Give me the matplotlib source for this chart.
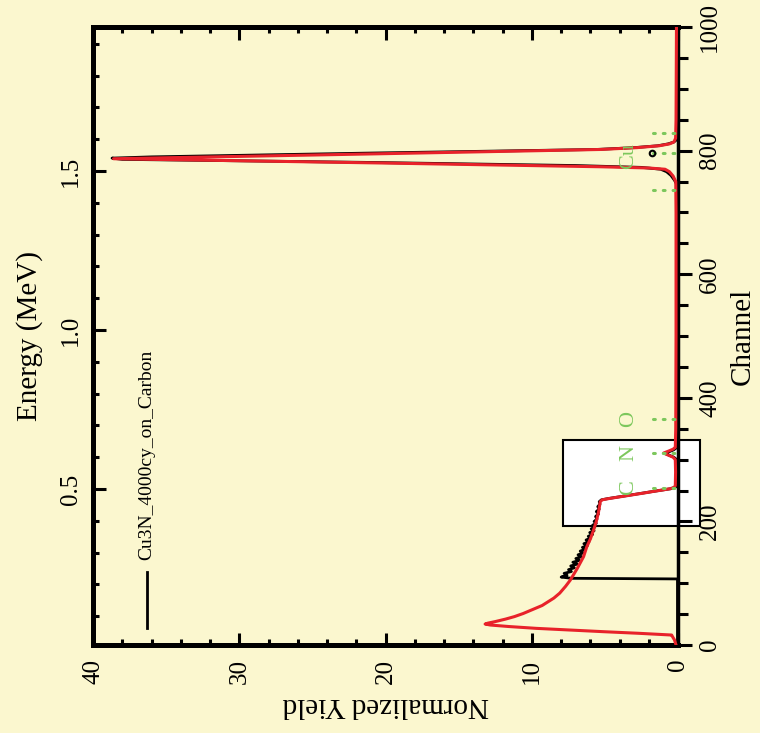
import matplotlib
matplotlib.use("Agg")
import matplotlib.pyplot as plt
from matplotlib.ticker import MultipleLocator, FixedLocator
from matplotlib.patches import Rectangle

plt.rcParams['font.family'] = ['Liberation Serif', 'DejaVu Serif']

# simulated spectrum (channel, normalized yield)
sim_ch = [0, 8, 14, 16.2, 19, 21.6, 24.3, 27, 30, 32.4, 34, 35.5, 38, 42, 46, 51, 57, 64,
          70, 76, 84, 95, 105, 124, 143, 159, 172, 186, 200, 215, 226, 232, 235, 237,
          240, 243, 246, 249, 251, 253, 255, 258, 280, 300, 304, 307, 310.7, 314, 317,
          320, 350, 500, 700, 750, 759, 766, 770, 772, 774, 780, 787, 795, 802, 805,
          808, 811, 814, 820, 850, 1000]
sim_y = [0.15, 0.25, 0.4, 0.45, 2.7, 5.1, 7.4, 9.7, 11.6, 12.85, 13.2, 13.0, 12.5, 11.8,
         11.2, 10.6, 10.0, 9.3, 8.9, 8.5, 8.1, 7.7, 7.38, 6.9, 6.47, 6.25, 6.0, 5.79,
         5.6, 5.45, 5.37, 5.33, 5.2, 4.75, 3.95, 3.15, 2.35, 1.6, 1.05, 0.55, 0.28, 0.2,
         0.18, 0.2, 0.35, 0.65, 1.0, 0.65, 0.35, 0.2, 0.17, 0.15, 0.15, 0.17, 0.35, 0.6,
         0.9, 2.0, 5.3, 20.0, 38.6, 20.5, 5.3, 2.8, 1.3, 0.6, 0.3, 0.18, 0.15, 0.12]

# measured spectrum Cu3N_4000cy_on_Carbon
exp_ch = [0, 107, 108, 110, 113, 116, 119, 122, 125, 128, 131, 134, 137, 140, 143, 146,
          149, 152, 155, 158, 161, 164, 167, 170, 173, 176, 179, 182, 185, 188, 191, 194,
          197, 200, 204, 208, 212, 216, 220, 224, 228, 232, 235, 237, 240, 243, 246, 249,
          251, 253, 256, 260, 290, 300, 304, 307, 310, 313, 316, 320, 360, 500, 700, 745,
          752, 760, 766, 770, 773, 776, 781, 786, 788, 790, 796, 802, 805, 808, 811, 814,
          818, 830, 1000]
exp_y = [0.05, 0.05, 7.3, 8.0, 7.6, 7.8, 7.3, 7.5, 7.1, 7.35, 6.9, 7.2, 6.75, 7.0, 6.6,
         6.85, 6.5, 6.7, 6.35, 6.55, 6.2, 6.45, 6.1, 6.3, 6.0, 6.15, 5.85, 6.05, 5.75,
         5.95, 5.7, 5.85, 5.6, 5.75, 5.55, 5.65, 5.45, 5.6, 5.4, 5.5, 5.35, 5.4, 5.25,
         4.8, 4.0, 3.2, 2.4, 1.6, 1.05, 0.5, 0.15, 0.05, 0.05, 0.1, 0.3, 0.6, 0.9, 0.6,
         0.3, 0.08, 0.05, 0.05, 0.05, 0.1, 0.25, 0.5, 0.8, 1.2, 2.5, 7.0, 21.0, 38.0,
         38.7, 36.0, 21.5, 5.6, 3.0, 1.4, 0.7, 0.3, 0.1, 0.05, 0.05]

# surface edge positions of the elements (channel)
elements = ['C', 'N', 'O', 'Cu']
element_ch = [254.5, 311, 366, 791]
edge_marks = [254.5, 311, 366, 736, 796, 828]

# channel -> energy calibration (MeV)
e_offset = 0.0096
e_gain = 0.001943

bg = '#fbf7cf'
green = '#7cc75c'
red = '#e8222a'

fig = plt.figure(figsize=(7.6, 7.33), dpi=100, facecolor=bg)
ax = fig.add_axes([0.1224, 0.12, 0.770, 0.843], facecolor=bg)

ax.plot(exp_y, exp_ch, color='black', lw=2.0, zorder=3)
ax.plot(sim_y, sim_ch, color=red, lw=2.2, zorder=4)

for ch in edge_marks:
    ax.plot([1.7, 0.05], [ch, ch], color=green, lw=2.2, ls=(0, (0.6, 2.6)),
            dash_capstyle='round', zorder=5)
for name, ch in zip(elements, element_ch):
    ax.text(3.4, ch, name, color=green, fontsize=16, rotation=90,
            ha='center', va='center', zorder=5)
ax.plot([1.78], [796], 'o', ms=4, mfc='none', mec='black', mew=1.5, zorder=6)

# legend sample, drawn sideways
ax.plot([0.092, 0.092], [0.028, 0.118], color='black', lw=2, transform=ax.transAxes)
ax.text(0.092, 0.137, 'Cu3N_4000cy_on_Carbon', rotation=90, fontsize=14,
        ha='center', va='bottom', transform=ax.transAxes)

# white zoom frame
ax.add_patch(Rectangle((0.803, 0.1926), 0.235, 0.14, transform=ax.transAxes,
                       facecolor='white', edgecolor='black', lw=1.5,
                       clip_on=False, zorder=0.5))

ax.set_xlim(40, 0)
ax.set_ylim(0, 1000)

ax.xaxis.set_major_locator(MultipleLocator(10))
ax.xaxis.set_minor_locator(MultipleLocator(2))
ax.tick_params(axis='x', which='both', direction='in', top=True, bottom=True,
               width=2.2, labelsize=18, labelrotation=90, pad=10)
ax.tick_params(axis='x', which='major', length=9)
ax.tick_params(axis='x', which='minor', length=4.5)

ax.yaxis.tick_right()
ax.yaxis.set_label_position('right')
ax.yaxis.set_major_locator(MultipleLocator(200))
ax.yaxis.set_minor_locator(MultipleLocator(50))
ax.tick_params(axis='y', which='both', direction='out', left=False, right=True,
               width=2.2, labelsize=18, labelrotation=90, pad=5)
ax.tick_params(axis='y', which='major', length=10)
ax.tick_params(axis='y', which='minor', length=7)
for lab in ax.get_yticklabels():
    lab.set_va('center')

ax.set_xlabel('Normalized Yield', fontsize=21, rotation=180, labelpad=6)
ax.set_ylabel('Channel', fontsize=21, rotation=90, labelpad=6)

for side in ['left', 'bottom', 'top']:
    ax.spines[side].set_linewidth(3.6)
ax.spines['right'].set_linewidth(2.5)

sec = ax.secondary_yaxis('left', functions=(lambda c: e_offset + e_gain * c,
                                            lambda e: (e - e_offset) / e_gain))
sec.yaxis.set_major_locator(FixedLocator([0.5, 1.0, 1.5]))
sec.yaxis.set_minor_locator(MultipleLocator(0.1))
sec.tick_params(which='both', direction='in', width=2.2, labelsize=18,
                labelrotation=90, pad=8)
sec.tick_params(which='major', length=9)
sec.tick_params(which='minor', length=4.5)
sec.spines['left'].set_linewidth(3.6)
for lab in sec.get_yticklabels():
    lab.set_va('center')
sec.set_ylabel('Energy (MeV)', fontsize=21, labelpad=12)

fig.savefig('out.png', dpi=100, facecolor=bg)
